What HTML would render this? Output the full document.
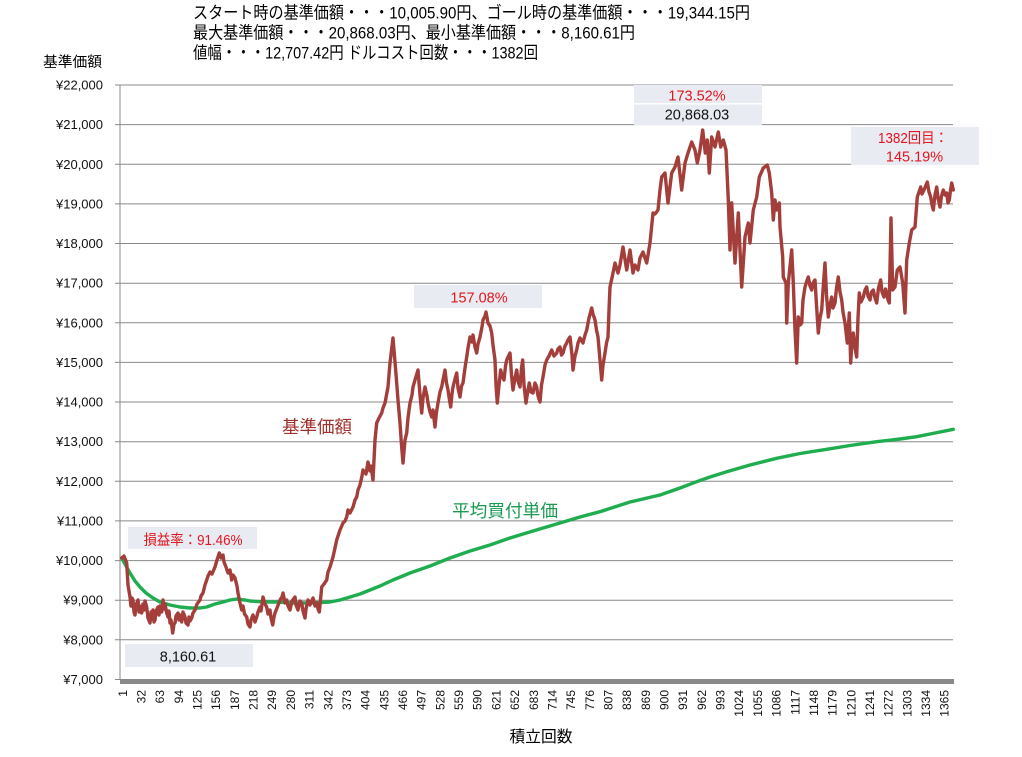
<!DOCTYPE html>
<html><head><meta charset="utf-8">
<style>
html,body{margin:0;padding:0;background:#fff;}
svg{display:block;}
text{font-family:"Liberation Sans","Noto Sans CJK JP",sans-serif;}
</style></head>
<body>
<svg width="1022" height="757" viewBox="0 0 1022 757" xmlns="http://www.w3.org/2000/svg">
<rect width="1022" height="757" fill="#fff"/>

<!-- title -->
<text x="193" y="18.5" font-size="17" textLength="557" lengthAdjust="spacingAndGlyphs">スタート時の基準価額・・・10,005.90円、ゴール時の基準価額・・・19,344.15円</text>
<text x="193" y="38.5" font-size="17" textLength="442" lengthAdjust="spacingAndGlyphs">最大基準価額・・・20,868.03円、最小基準価額・・・8,160.61円</text>
<text x="193" y="58.5" font-size="17" textLength="345" lengthAdjust="spacingAndGlyphs">値幅・・・12,707.42円 ドルコスト回数・・・1382回</text>

<text x="43" y="67" font-size="14.5" textLength="59" lengthAdjust="spacingAndGlyphs">基準価額</text>

<!-- gridlines -->
<g stroke="#898989" stroke-width="1">
<line x1="115" x2="953" y1="85" y2="85"/>
<line x1="115" x2="953" y1="124.6" y2="124.6"/>
<line x1="115" x2="953" y1="164.3" y2="164.3"/>
<line x1="115" x2="953" y1="203.9" y2="203.9"/>
<line x1="115" x2="953" y1="243.5" y2="243.5"/>
<line x1="115" x2="953" y1="283.2" y2="283.2"/>
<line x1="115" x2="953" y1="322.8" y2="322.8"/>
<line x1="115" x2="953" y1="362.4" y2="362.4"/>
<line x1="115" x2="953" y1="402" y2="402"/>
<line x1="115" x2="953" y1="441.7" y2="441.7"/>
<line x1="115" x2="953" y1="481.3" y2="481.3"/>
<line x1="115" x2="953" y1="520.9" y2="520.9"/>
<line x1="115" x2="953" y1="560.6" y2="560.6"/>
<line x1="115" x2="953" y1="600.2" y2="600.2"/>
<line x1="115" x2="953" y1="639.8" y2="639.8"/>
<line x1="115" x2="120" y1="679.5" y2="679.5"/>
<line x1="120" x2="120" y1="85" y2="680"/>
</g>
<rect x="120" y="679" width="834" height="5" fill="#898989"/>

<!-- y labels -->
<g font-size="13" text-anchor="end" fill="#111">
<text x="103" y="89.5">¥22,000</text>
<text x="103" y="129.1">¥21,000</text>
<text x="103" y="168.8">¥20,000</text>
<text x="103" y="208.4">¥19,000</text>
<text x="103" y="248">¥18,000</text>
<text x="103" y="287.7">¥17,000</text>
<text x="103" y="327.3">¥16,000</text>
<text x="103" y="366.9">¥15,000</text>
<text x="103" y="406.5">¥14,000</text>
<text x="103" y="446.2">¥13,000</text>
<text x="103" y="485.8">¥12,000</text>
<text x="103" y="525.4">¥11,000</text>
<text x="103" y="565.1">¥10,000</text>
<text x="103" y="604.7">¥9,000</text>
<text x="103" y="644.3">¥8,000</text>
<text x="103" y="684">¥7,000</text>
</g>

<!-- x labels -->
<g font-size="12" text-anchor="end" fill="#111">
<text transform="translate(122.5,690) rotate(-90)" dy="4.3">1</text>
<text transform="translate(141.2,690) rotate(-90)" dy="4.3">32</text>
<text transform="translate(159.9,690) rotate(-90)" dy="4.3">63</text>
<text transform="translate(178.5,690) rotate(-90)" dy="4.3">94</text>
<text transform="translate(197.2,690) rotate(-90)" dy="4.3">125</text>
<text transform="translate(215.9,690) rotate(-90)" dy="4.3">156</text>
<text transform="translate(234.6,690) rotate(-90)" dy="4.3">187</text>
<text transform="translate(253.3,690) rotate(-90)" dy="4.3">218</text>
<text transform="translate(271.9,690) rotate(-90)" dy="4.3">249</text>
<text transform="translate(290.6,690) rotate(-90)" dy="4.3">280</text>
<text transform="translate(309.3,690) rotate(-90)" dy="4.3">311</text>
<text transform="translate(328,690) rotate(-90)" dy="4.3">342</text>
<text transform="translate(346.7,690) rotate(-90)" dy="4.3">373</text>
<text transform="translate(365.3,690) rotate(-90)" dy="4.3">404</text>
<text transform="translate(384,690) rotate(-90)" dy="4.3">435</text>
<text transform="translate(402.7,690) rotate(-90)" dy="4.3">466</text>
<text transform="translate(421.4,690) rotate(-90)" dy="4.3">497</text>
<text transform="translate(440.1,690) rotate(-90)" dy="4.3">528</text>
<text transform="translate(458.7,690) rotate(-90)" dy="4.3">559</text>
<text transform="translate(477.4,690) rotate(-90)" dy="4.3">590</text>
<text transform="translate(496.1,690) rotate(-90)" dy="4.3">621</text>
<text transform="translate(514.8,690) rotate(-90)" dy="4.3">652</text>
<text transform="translate(533.5,690) rotate(-90)" dy="4.3">683</text>
<text transform="translate(552.1,690) rotate(-90)" dy="4.3">714</text>
<text transform="translate(570.8,690) rotate(-90)" dy="4.3">745</text>
<text transform="translate(589.5,690) rotate(-90)" dy="4.3">776</text>
<text transform="translate(608.2,690) rotate(-90)" dy="4.3">807</text>
<text transform="translate(626.9,690) rotate(-90)" dy="4.3">838</text>
<text transform="translate(645.5,690) rotate(-90)" dy="4.3">869</text>
<text transform="translate(664.2,690) rotate(-90)" dy="4.3">900</text>
<text transform="translate(682.9,690) rotate(-90)" dy="4.3">931</text>
<text transform="translate(701.6,690) rotate(-90)" dy="4.3">962</text>
<text transform="translate(720.3,690) rotate(-90)" dy="4.3">993</text>
<text transform="translate(738.9,690) rotate(-90)" dy="4.3">1024</text>
<text transform="translate(757.6,690) rotate(-90)" dy="4.3">1055</text>
<text transform="translate(776.3,690) rotate(-90)" dy="4.3">1086</text>
<text transform="translate(795,690) rotate(-90)" dy="4.3">1117</text>
<text transform="translate(813.7,690) rotate(-90)" dy="4.3">1148</text>
<text transform="translate(832.3,690) rotate(-90)" dy="4.3">1179</text>
<text transform="translate(851,690) rotate(-90)" dy="4.3">1210</text>
<text transform="translate(869.7,690) rotate(-90)" dy="4.3">1241</text>
<text transform="translate(888.4,690) rotate(-90)" dy="4.3">1272</text>
<text transform="translate(907.1,690) rotate(-90)" dy="4.3">1303</text>
<text transform="translate(925.7,690) rotate(-90)" dy="4.3">1334</text>
<text transform="translate(944.4,690) rotate(-90)" dy="4.3">1365</text>
</g>

<text x="541" y="742" font-size="16" text-anchor="middle" textLength="63" lengthAdjust="spacingAndGlyphs">積立回数</text>

<!-- annotation boxes -->
<g fill="#e8ecf2">
<rect x="128" y="527" width="129" height="22"/>
<rect x="125" y="644" width="128" height="23"/>
<rect x="414" y="285" width="128" height="23"/>
<rect x="634" y="85" width="128" height="18"/>
<rect x="634" y="104.5" width="128" height="21"/>
<rect x="851" y="127" width="128" height="38"/>
</g>

<!-- green line -->
<polyline fill="none" stroke="#1fad50" stroke-width="3.4" stroke-linejoin="round" stroke-linecap="round"
points="121.7,558 126,566 130,573 135,581 140,587 146,593 153,598 160,602 170,605 180,607 190,608 200,608 206.7,607 215,604 223,602 230,600 236.7,599 245,600 250,601 265,602 276.7,602 295,603 310,603 330,602 340,600 350,597 360,594 370,590 380,586 393,580 410,573 430,566 450,558 470,551 490,545 510,538 533,531 560,523 580,517 600,511.7 630,502 660,495 680,488 696.7,481.7 710,477 726.7,471.7 750,465 776.7,458.3 800,453.5 826.7,449.3 850,445.5 876.7,441.7 900,439 916.7,436.7 935,433 953.3,429.3"/>

<!-- red line -->
<polyline fill="none" stroke="#a43e3a" stroke-width="3.4" stroke-linejoin="round" stroke-linecap="round"
points="121.7,558 124,556 126.7,563 128,585 130,597 131,606 132,598 133,600 134,612 135,615 136,605 138,600 139,612 140,606 141.7,613 143,604 144,610 145,601 146.7,607 148,618 150,623 151,612 152,619 153,610 154,622 155,620 156,611 158,607 159,615 160,606 161.7,612 163,600 164,609 165,604 166.7,613 168,617 169,611 170,623 171,620 172.7,633 174,624 175,623 176,616 178,613 179,620 180,615 181.7,622 183,612 185,617 186,623 188,625 189,617 190,621 191.7,618 193,613 195,610 197,604 200,600 201,596 203,593 205,585 206.7,580 208,576 210,572 212,574 215,567 217,560 219.3,553 221,558 223,555 224,562 226,567 228,573 230,570 231.7,580 233,575 235,578 237,586 238,593 240,603 241.7,610 243,606 244.5,614 246.7,617 248,624 250,627 251,620 253,615 255,622 256.7,617 258,612 260,607 261,611 263,597 265,604 266.7,607 268,614 270,610 271,618 272.7,625 274,617 275,613 277,608 280,600 282,597 283,593 285,603 286.7,600 288,606 290,610 292,601 295,597 296,605 298,610 300,601 301.7,603 303,611 305,618 306,609 308,600 310,605 313,598 315,606 316.7,603 318,609 319.3,612 320.5,600 321.7,587 324,584 326.7,580 328,572 330,567 333,557 335,548 336.7,540 338,536 340,530 343,523 345,521 346.7,517 348,510 350,513 353,507 355,500 356.7,497 358,490 360,485 362,476 363,470 366,474 368,462 370,471 371,466 373,480 375,440 376.7,423 379,418 381.7,413 383,408 385,403 386.5,395 388,387 390,363 393,338 395,362 396.7,383 398,400 400,423 401.5,445 403,463 405,440 406.7,433 408,418 410,403 412,395 413,387 415,380 418,370 420,395 421.7,413 423,398 425,387 427,396 428,403 430,412 431.7,417 433,410 435,427 436.5,412 438,403 440,392 441.7,387 443,380 445,370 446.5,383 448,390 449.5,400 450.7,407 452,394 453,387 455,379 456.7,373 458,388 460,397 461.5,386 463,383 465,368 466.7,357 468,348 470,337 472,342 473,335 475,347 476.7,353 478,344 480,337 482,327 483,320 485,316 486,312 488,323 490,326 491.7,333 493,345 495,360 496,385 497.3,403 499,385 500.7,370 502,376 504,380 505.5,366 506.7,360 508,357 510,353 511.5,375 513,390 515,378 516.7,370 518,381 520,387 521.5,368 522.7,360 524,385 526,403 528,390 529.3,383 531,392 533,393 535,383 536.7,387 538,396 540,402 541.5,385 543,377 545,365 546.7,360 549,356 551.7,350 554,356 556.7,353 558,349 560,347 561.5,355 563,353 565,346 566.7,343 568,340 570,337 572,355 573,370 575,356 576.7,350 578,343 580,338 583,343 585,335 586.7,330 589,318 591.7,308 593,314 595,320 596.5,330 598,337 600,360 601.7,380 603,365 605,353 606.5,343 608,337 609,310 610,287 613,273 615,263 618,273 620,265 623,247 626.7,270 630,250 633,273 635,265 638,270 640,258 643,252 646.7,263 650,243 653,213 655,214 658,210 660,190 661.7,177 665,173 668,203 671.7,173 675,167 678,157 681.7,190 685,163 688,153 691.7,142 695,150 697.3,163 700,150 702.7,130 705.3,153 707.3,140 709.3,173 711.7,137 715,147 718.3,132 720.7,147 723.3,140 726,150 728.3,200 730,250 731.7,203 735,263 738.3,213 741.7,287 745,237 748.3,223 750,243 753.3,210 756.7,197 759.3,177 763.3,168 767.3,165 769.3,173 771.7,193 773.3,220 775,200 776.7,210 779.3,203 780,227 782.7,257 783.3,277 786,283 786.7,323 788.3,283 791.7,250 793.3,283 795,330 796.7,363 798.3,317 800,325 801.7,323 803,300 805,287 806.5,282 808.3,277 810,286 811.7,290 813,283 815,280 816.5,305 818.3,333 820,318 821.7,310 823,290 825,263 826.5,295 828.3,317 830,305 831.7,297 833,308 835,303 836.5,288 838.3,277 840,292 841.7,300 843,312 845,323 847.3,343 849.3,313 850.7,363 852,340 853.3,333 855,348 856.7,357 858,318 859.3,293 861,302 863.3,297 865,290 866.7,287 868,296 870,300 871.5,292 873.3,290 875,298 876.7,303 878.5,288 880.7,280 882,292 884,297 885.5,289 886.7,293 888,300 889.3,303 891,218 892.7,290 895,287 897.3,270 900,267 902.7,283 905,313 906.7,260 909.3,243 911.7,230 915,227 917.3,197 920.7,187 922,194 924,190 926,185 927.3,182 929,192 930.7,197 932,205 933.3,210 935,195 936.7,187 938,198 940,207 941.5,196 943.3,190 945,195 946.7,193 948,203 949.3,200 950.5,190 951.7,183 953.3,190"/>

<!-- annotation texts -->
<g font-size="14.5" text-anchor="middle">
<text x="193" y="545" fill="#e3141e" textLength="99" lengthAdjust="spacingAndGlyphs">損益率：91.46%</text>
<text x="188" y="661.5" fill="#111">8,160.61</text>
<text x="479" y="302.5" fill="#e3141e">157.08%</text>
<text x="697" y="100.5" fill="#e3141e">173.52%</text>
<text x="697" y="119.5" fill="#111">20,868.03</text>
<text x="913" y="143" fill="#e3141e" textLength="70" lengthAdjust="spacingAndGlyphs">1382回目：</text>
<text x="914.5" y="161.5" fill="#e3141e">145.19%</text>
</g>

<!-- series labels -->
<text x="282" y="433" font-size="17.5" fill="#a0302c" textLength="70" lengthAdjust="spacingAndGlyphs">基準価額</text>
<text x="452" y="517" font-size="17.5" fill="#1a9a50" textLength="106" lengthAdjust="spacingAndGlyphs">平均買付単価</text>
</svg>
</body></html>
